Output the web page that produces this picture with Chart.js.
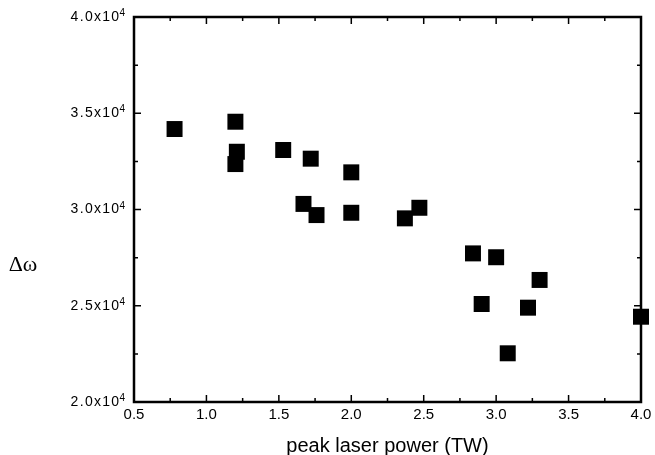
<!DOCTYPE html>
<html>
<head>
<meta charset="utf-8">
<script src="https://cdn.jsdelivr.net/npm/chart.js@4"></script>
<style>
  body { margin: 0; background: #fff; }
  #wrap { width: 655px; height: 455px; }
</style>
</head>
<body>
<div id="wrap"><canvas id="grafico" width="655" height="455"></canvas></div>
<script>
// potencia de pico (TW) e largura espectral
const potencia = [0.78, 1.20, 1.21, 1.20, 1.53, 1.72, 2.00, 1.67, 1.76, 2.00,
                  2.37, 2.47, 2.84, 3.00, 3.30, 2.90, 3.22, 3.08, 4.00];
const deltaOmega = [34180, 34560, 33000, 32360, 33090, 32640, 31930, 30290, 29710, 29830,
                    29540, 30090, 27720, 27520, 26340, 25090, 24900, 22530, 24430];

const pontos = potencia.map((x, i) => ({ x: x, y: deltaOmega[i] }));

// moldura, marcas para dentro e rotulos do eixo y com expoente
const molduraPlugin = {
    id: 'moldura',
    afterDraw(chart) {
        const ctx = chart.ctx;
        const area = chart.chartArea;
        const sx = chart.scales.x;
        const sy = chart.scales.y;
        ctx.save();
        ctx.strokeStyle = '#000';
        ctx.lineWidth = 2.5;
        ctx.strokeRect(area.left, area.top, area.right - area.left, area.bottom - area.top);

        ctx.lineWidth = 1.5;
        for (let v = 0.5; v <= 4.0001; v += 0.25) {
            const px = sx.getPixelForValue(v);
            const len = Math.abs(v * 2 - Math.round(v * 2)) < 0.01 ? 7 : 4;
            ctx.beginPath();
            ctx.moveTo(px, area.bottom);
            ctx.lineTo(px, area.bottom - len);
            ctx.moveTo(px, area.top);
            ctx.lineTo(px, area.top + len);
            ctx.stroke();
        }
        for (let v = 20000; v <= 40000; v += 2500) {
            const py = sy.getPixelForValue(v);
            const len = v % 5000 === 0 ? 7 : 4;
            ctx.beginPath();
            ctx.moveTo(area.left, py);
            ctx.lineTo(area.left + len, py);
            ctx.moveTo(area.right, py);
            ctx.lineTo(area.right - len, py);
            ctx.stroke();
        }

        ctx.fillStyle = '#000';
        ctx.textAlign = 'right';
        const xDir = area.left - 9;
        sy.ticks.forEach(t => {
            const py = sy.getPixelForValue(t.value);
            ctx.font = '10px "Liberation Sans", Arial, sans-serif';
            ctx.letterSpacing = '0px';
            ctx.textBaseline = 'alphabetic';
            ctx.fillText('4', xDir, py - 1);
            const wSup = ctx.measureText('4').width;
            ctx.font = '14px "Liberation Sans", Arial, sans-serif';
            ctx.letterSpacing = '1.3px';
            ctx.textBaseline = 'middle';
            ctx.fillText((t.value / 10000).toFixed(1) + 'x10', xDir - wSup + 1, py);
        });
        ctx.letterSpacing = '0px';

        // rotulo do eixo y na horizontal
        ctx.font = '22px "Liberation Serif", "DejaVu Serif", serif';
        ctx.textAlign = 'center';
        ctx.textBaseline = 'middle';
        ctx.fillText('Δω', 23, 265);
        ctx.restore();
    }
};

const contexto = document.getElementById('grafico').getContext('2d');

new Chart(contexto, {
    type: 'scatter',
    data: {
        datasets: [
            {
                data: pontos,
                pointStyle: 'rect',
                pointRadius: 11.3,
                pointHoverRadius: 11.3,
                backgroundColor: '#000',
                borderColor: '#000',
                borderWidth: 0,
                clip: false,
            },
        ],
    },
    options: {
        responsive: false,
        animation: false,
        events: [],
        layout: {
            padding: { left: 0, right: 14, top: 17, bottom: 0 },
        },
        plugins: {
            legend: { display: false },
            tooltip: { enabled: false },
        },
        scales: {
            x: {
                type: 'linear',
                min: 0.5,
                max: 4.0,
                grid: { display: false, drawTicks: false },
                border: { display: false },
                afterFit: scale => {
                    scale.height = 53;
                    scale.paddingLeft = 0;
                    scale.paddingRight = 0;
                },
                ticks: {
                    stepSize: 0.5,
                    padding: 4,
                    color: '#000',
                    font: { family: 'Liberation Sans, Arial, sans-serif', size: 15 },
                    callback: v => v.toFixed(1),
                },
                title: {
                    display: true,
                    text: 'peak laser power (TW)',
                    color: '#000',
                    font: { family: 'Liberation Sans, Arial, sans-serif', size: 20 },
                    padding: { top: 0, bottom: -3 },
                },
            },
            y: {
                type: 'linear',
                min: 20000,
                max: 40000,
                grid: { display: false, drawTicks: false },
                border: { display: false },
                afterFit: scale => { scale.width = 134; },
                ticks: {
                    stepSize: 5000,
                    display: false,
                },
            },
        },
    },
    plugins: [molduraPlugin],
});
</script>
</body>
</html>
